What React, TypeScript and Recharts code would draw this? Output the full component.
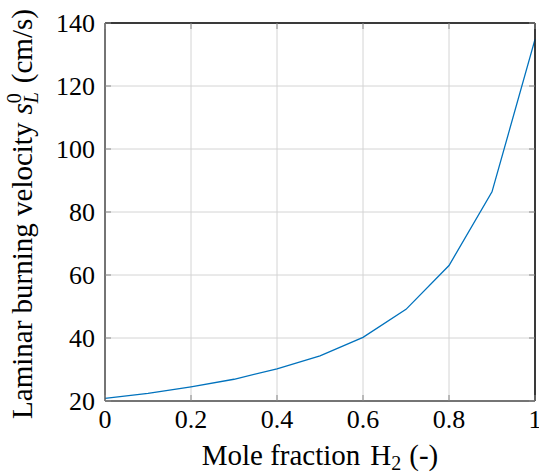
import React from 'react';
import { LineChart, Line, XAxis, YAxis, CartesianGrid, Label, ReferenceLine } from 'recharts';

const moleFraction = [0, 0.1, 0.2, 0.3, 0.4, 0.5, 0.6, 0.7, 0.8, 0.9, 1.0];
const burningVelocity = [20.85, 22.4, 24.5, 26.9, 30.2, 34.3, 40.2, 49.1, 63.0, 86.4, 134.8];
const xTicks = [0, 0.2, 0.4, 0.6, 0.8, 1];
const yTicks = [20, 40, 60, 80, 100, 120, 140];

const data = moleFraction.map((x, i) => ({ x, v: burningVelocity[i] }));

const FONT = '"Liberation Serif", "DejaVu Serif", serif';
const TICK_GRAY = '#8a8a8a';
const TL = 6;

const BottomTick = (props: any) => {
  const { x, y, payload } = props;
  return (
    <g>
      <line x1={x} y1={y} x2={x} y2={y - TL} stroke={TICK_GRAY} strokeWidth={1} />
      <text x={x} y={y + 27} textAnchor="middle" fontFamily={FONT} fontSize={26} fill="#000">
        {String(payload.value)}
      </text>
    </g>
  );
};

const TopTick = (props: any) => {
  const { x, y } = props;
  return <line x1={x} y1={y} x2={x} y2={y + TL} stroke={TICK_GRAY} strokeWidth={1} />;
};

const LeftTick = (props: any) => {
  const { x, y, payload } = props;
  return (
    <g>
      <line x1={x} y1={y} x2={x + TL} y2={y} stroke={TICK_GRAY} strokeWidth={1} />
      <text x={x - 10} y={y + 9} textAnchor="end" fontFamily={FONT} fontSize={26} fill="#000">
        {String(payload.value)}
      </text>
    </g>
  );
};

const RightTick = (props: any) => {
  const { x, y } = props;
  return <line x1={x} y1={y} x2={x - TL} y2={y} stroke={TICK_GRAY} strokeWidth={1} />;
};

const XLabel = (props: any) => {
  const vb = props.viewBox;
  const cx = vb.x + vb.width / 2;
  const y = vb.y + 64;
  return (
    <text x={cx} y={y} textAnchor="middle" fontFamily={FONT} fontSize={29} fill="#000">
      Mole fraction
      <tspan dx={10}>H</tspan>
      <tspan fontSize={20} dy={5}>2</tspan>
      <tspan dy={-5} dx={8}>(-)</tspan>
    </text>
  );
};

const YLabel = (props: any) => {
  const vb = props.viewBox;
  const cx = vb.x - 13;
  const cy = vb.y + vb.height / 2 + 2;
  return (
    <text
      x={cx}
      y={cy}
      transform={`rotate(-90, ${cx}, ${cy})`}
      textAnchor="middle"
      fontFamily={FONT}
      fontSize={29}
      fill="#000"
    >
      Laminar burning velocity
      <tspan dx={8} fontStyle="italic">s</tspan>
      <tspan fontSize={20} dy={-11}>0</tspan>
      <tspan fontSize={20} fontStyle="italic" dx={-10} dy={17}>L</tspan>
      <tspan dy={-6} dx={9}>(cm/s)</tspan>
    </text>
  );
};

export default function App() {
  return (
    <div style={{ position: 'absolute', left: 0, top: 0 }}>
      <LineChart
        width={539}
        height={476}
        data={data}
        margin={{ top: 22, right: 3, bottom: 35, left: 45 }}
      >
        <CartesianGrid stroke="#d4d4d4" strokeWidth={1} horizontal vertical />
        <XAxis
          dataKey="x"
          type="number"
          domain={[0, 1]}
          ticks={xTicks}
          height={40}
          tickSize={0}
          tickMargin={0}
          axisLine={{ stroke: '#000', strokeWidth: 1 }}
          tickLine={false}
          tick={BottomTick}
          interval={0}
        >
          <Label content={XLabel} />
        </XAxis>
        <XAxis
          xAxisId="top"
          dataKey="x"
          orientation="top"
          type="number"
          domain={[0, 1]}
          ticks={xTicks}
          height={1}
          tickSize={0}
          tickMargin={0}
          axisLine={{ stroke: '#000', strokeWidth: 1 }}
          tickLine={false}
          tick={TopTick}
          interval={0}
        />
        <YAxis
          type="number"
          domain={[20, 140]}
          ticks={yTicks}
          width={60}
          tickSize={0}
          tickMargin={0}
          axisLine={{ stroke: '#000', strokeWidth: 1 }}
          tickLine={false}
          tick={LeftTick}
          interval={0}
          allowDataOverflow
        >
          <Label content={YLabel} />
        </YAxis>
        <YAxis
          yAxisId="right"
          orientation="right"
          type="number"
          domain={[20, 140]}
          ticks={yTicks}
          width={1}
          tickSize={0}
          tickMargin={0}
          axisLine={{ stroke: '#000', strokeWidth: 1 }}
          tickLine={false}
          tick={RightTick}
          interval={0}
          allowDataOverflow
        />
        <ReferenceLine y={140} stroke="#000" strokeWidth={1} ifOverflow="visible" />
        <ReferenceLine x={1} stroke="#000" strokeWidth={1} ifOverflow="visible" />
        <Line
          xAxisId="top"
          yAxisId="right"
          type="linear"
          dataKey="v"
          stroke="none"
          dot={false}
          legendType="none"
          isAnimationActive={false}
        />
        <Line
          type="linear"
          dataKey="v"
          stroke="#0072BD"
          strokeWidth={1.3}
          dot={false}
          isAnimationActive={false}
        />
      </LineChart>
    </div>
  );
}
